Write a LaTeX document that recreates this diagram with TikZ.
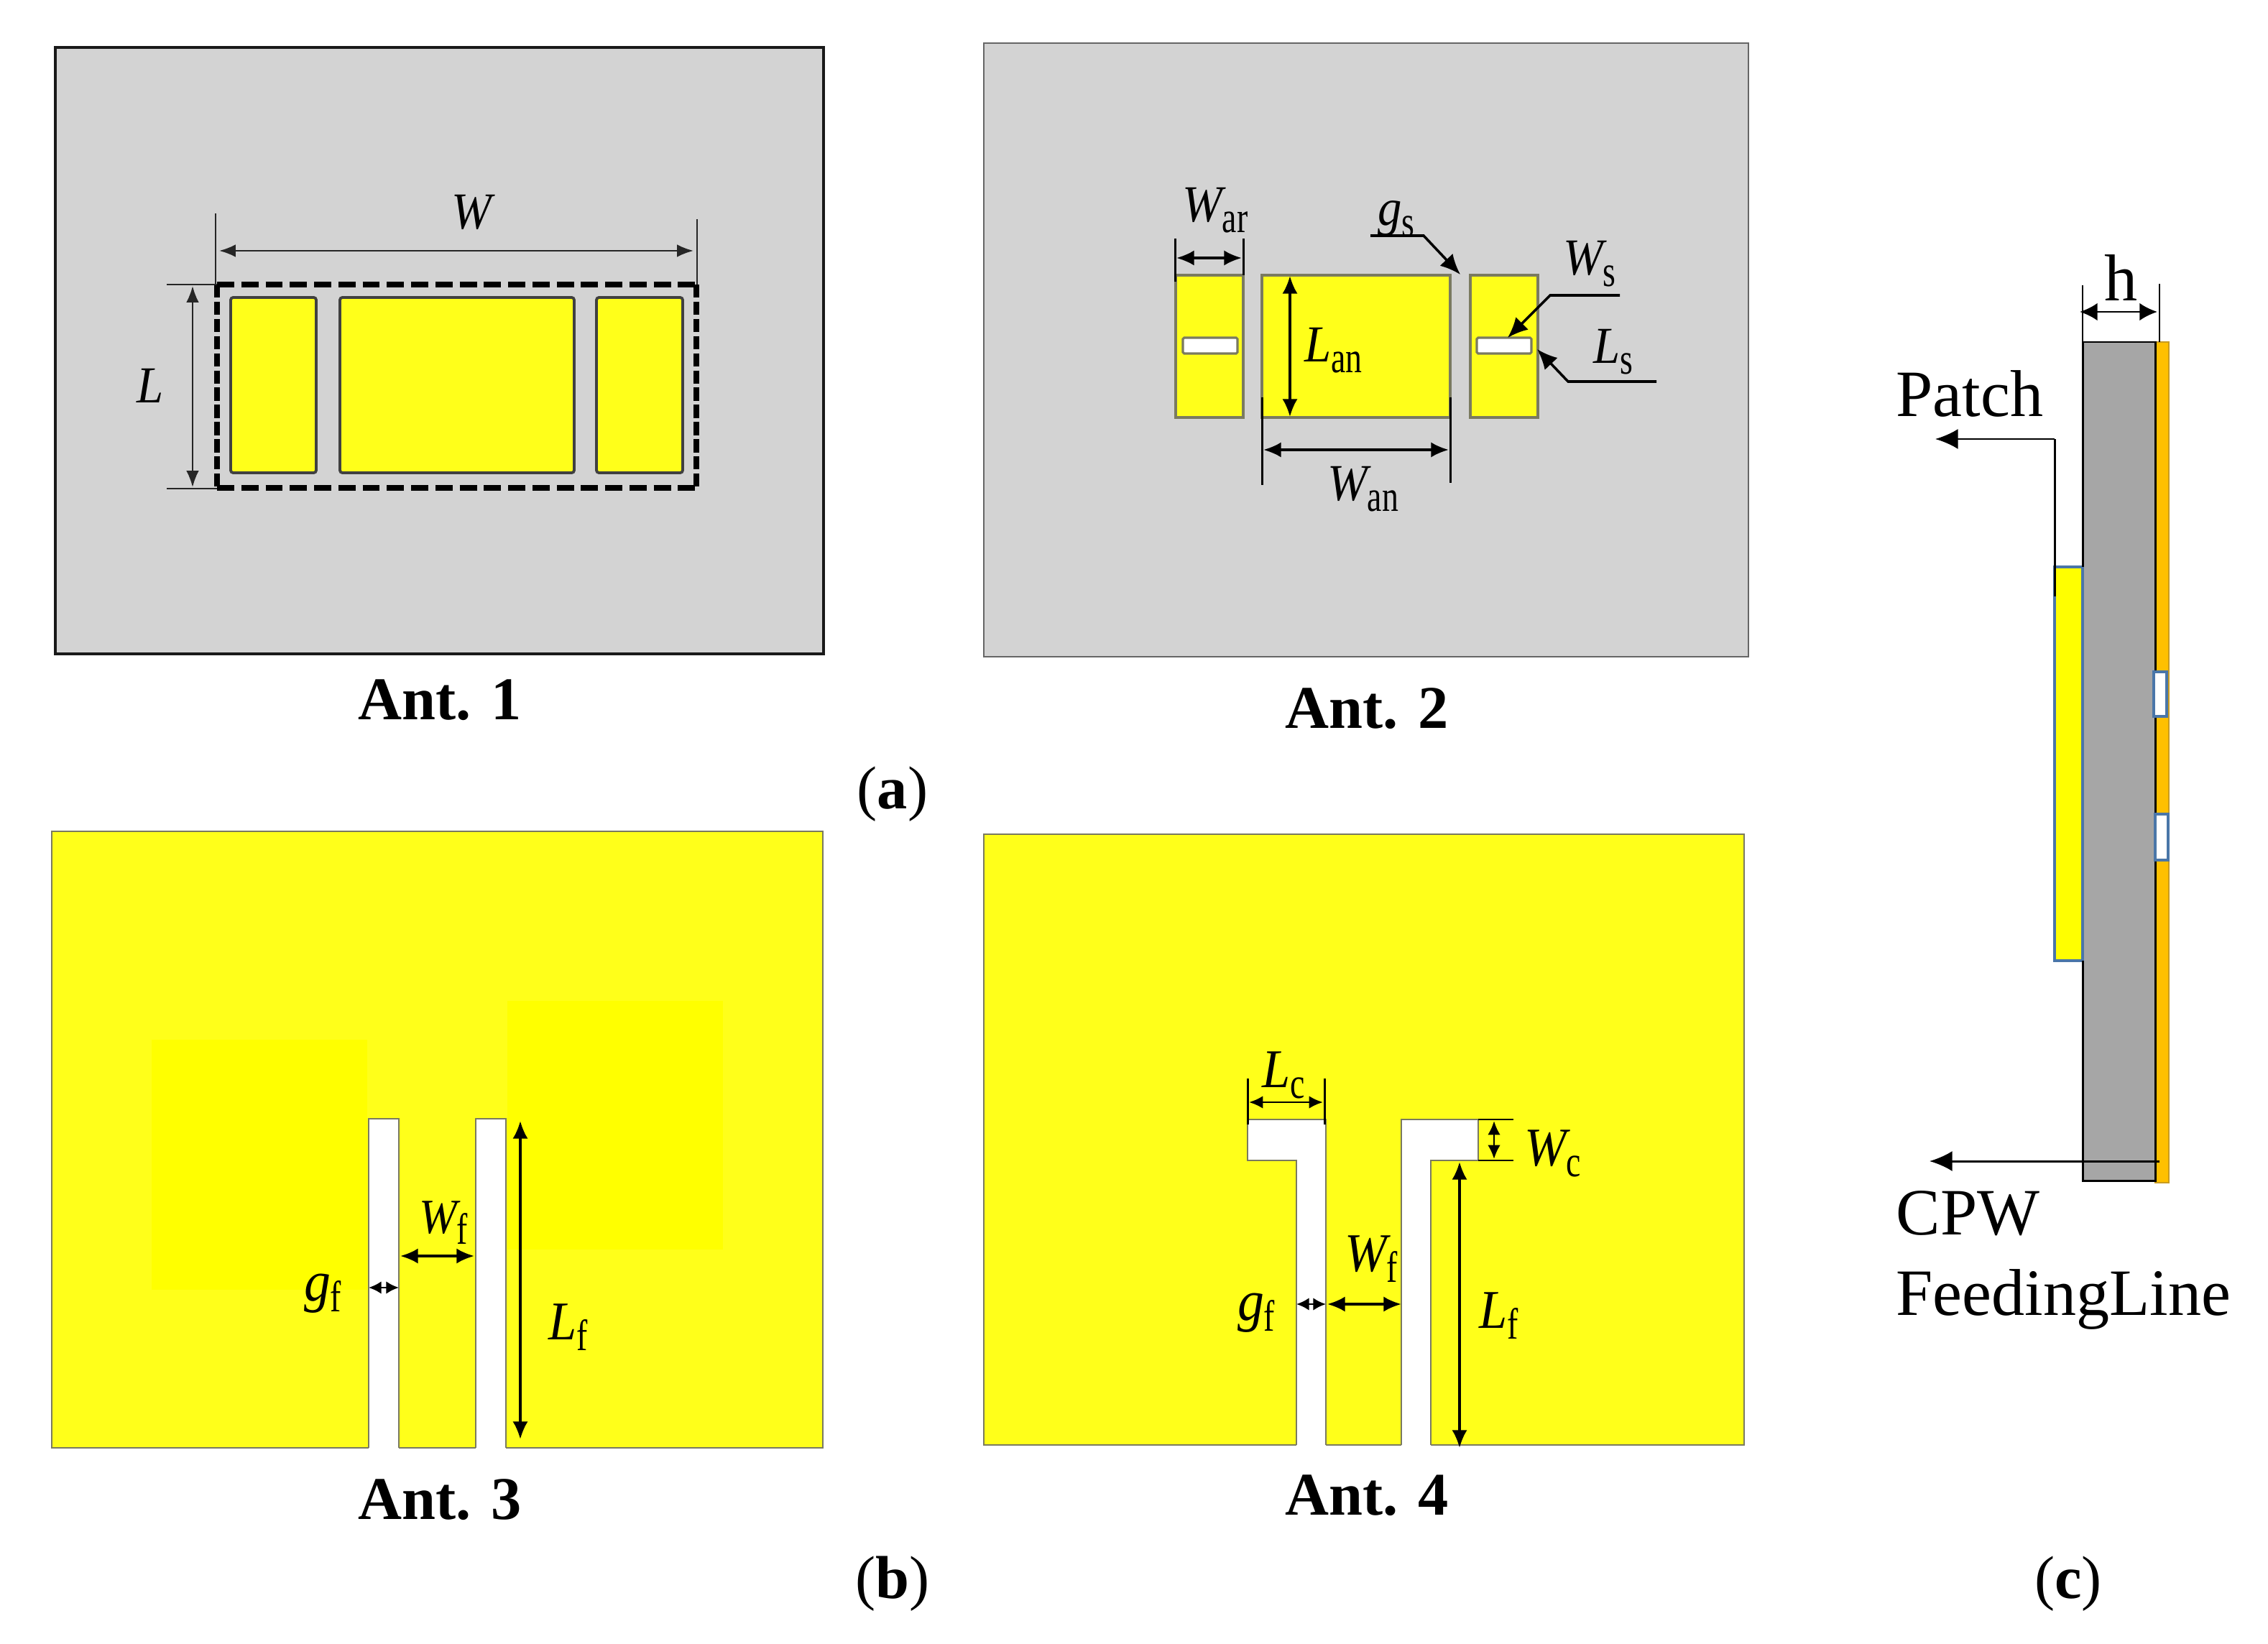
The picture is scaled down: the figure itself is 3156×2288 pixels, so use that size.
\documentclass[tikz,border=0pt]{standalone}
\usepackage{fontspec}
\usepackage{graphicx}
\setmainfont{Liberation Serif}
\usetikzlibrary{arrows.meta}
\definecolor{board}{HTML}{D3D3D3}
\definecolor{ylw}{HTML}{FFFF1A}
\definecolor{ylwb}{HTML}{FFFF00}
\definecolor{edgeg}{HTML}{7A7A60}
\definecolor{org}{HTML}{FFC000}
\definecolor{orgedge}{HTML}{C89B20}
\definecolor{subg}{HTML}{A6A6A6}
\definecolor{blueedge}{HTML}{4A76A8}
\newcommand\lb[3][19]{\scalebox{1}[1.08]{\fontsize{#1}{#1}\selectfont\itshape #2}\raisebox{-4.4pt}{\scalebox{.84}[1.12]{\fontsize{15.5}{15.5}\selectfont #3}}}
\tikzset{
  dimthin/.style={line width=0.7pt,black!85,{Latex[length=6.5pt,width=5pt]}-{Latex[length=6.5pt,width=5pt]}},
  dimthick/.style={line width=1pt,black,{Latex[length=7pt,width=6pt]}-{Latex[length=7pt,width=6pt]}},
  ext/.style={line width=0.55pt,black!85},
  extb/.style={line width=0.85pt,black},
  leader/.style={line width=1pt,black,-{Latex[length=8pt,width=7pt]}},
  patchA/.style={fill=ylw,draw=black!75,line width=1.1pt,rounded corners=1pt},
  patchB/.style={fill=ylw,draw=edgeg,line width=0.9pt},
  slotS/.style={fill=white,draw=edgeg,line width=0.9pt,rounded corners=0.5pt},
  yshape/.style={fill=ylw,draw=edgeg,line width=0.5pt},
  gapw/.style={fill=white},
  gapl/.style={draw=edgeg,line width=0.6pt},
  lab/.style={anchor=base west,inner sep=0pt,outer sep=0pt},
  antcap/.style={anchor=center,inner sep=0pt,font=\fontsize{24}{28}\selectfont\bfseries},
  ptxt/.style={anchor=base west,inner sep=0pt,font=\fontsize{26.2}{30}\selectfont},
  pcap/.style={anchor=center,inner sep=0pt,font=\fontsize{24}{28}\selectfont},
  sidearrow/.style={line width=0.85pt,black,-{Latex[length=9pt,width=8pt]}},
}
\begin{document}
\begin{tikzpicture}[x=0.01cm,y=-0.01cm]
\useasboundingbox (0,0) rectangle (3156,2288);
\fill[white] (0,0) rectangle (3156,2288);

% ---- Ant. 1
\draw[fill=board,draw=black!90,line width=1.1pt] (77,66) rectangle (1146,910);
\draw[patchA] (321,414) rectangle (440,658);
\draw[patchA] (473,414) rectangle (799,658);
\draw[patchA] (830,414) rectangle (950,658);
\draw[black,line width=2.2pt,dash pattern=on 6.8pt off 2.8pt] (302,396) -- (969,396);
\draw[black,line width=2.2pt,dash pattern=on 6.8pt off 2.8pt] (302,679) -- (969,679);
\draw[black,line width=2.0pt,dash pattern=on 5.2pt off 1.6pt] (302,396) -- (302,679);
\draw[black,line width=2.0pt,dash pattern=on 5.2pt off 1.6pt] (969,396) -- (969,679);
\draw[ext] (300,297) -- (300,396);
\draw[ext] (970,305) -- (970,396);
\draw[dimthin] (305,349) -- (965,349);
\draw[ext] (232,396) -- (302,396);
\draw[ext] (232,680) -- (302,680);
\draw[dimthin] (268,398) -- (268,678);
\node[lab] (w1) at (628,319) {\lb{W}{}};
\node[lab] (l1) at (190,560) {\lb{L}{}};
\node[antcap] (ant1) at (612,974) {Ant. 1};

% ---- Ant. 2
\draw[fill=board,draw=black!60,line width=0.7pt] (1369,60) rectangle (2433,914);
\draw[patchB] (1636,383) rectangle (1730,581);
\draw[patchB] (1756,383) rectangle (2018,581);
\draw[patchB] (2046,383) rectangle (2140,581);
\draw[slotS] (1646,470) rectangle (1722,492);
\draw[slotS] (2055,470) rectangle (2131,492);
\draw[extb] (1635,332) -- (1635,392);
\draw[extb] (1730,332) -- (1730,383);
\draw[dimthick] (1637,359) -- (1728,359);
\draw[extb] (1756,553) -- (1756,675);
\draw[extb] (2018,553) -- (2018,672);
\draw[dimthick] (1758,626) -- (2016,626);
\draw[dimthick] (1795,384) -- (1795,580);
\node[lab] (war) at (1645,308) {\lb{W}{ar}};
\node[lab] (gs) at (1917,314) {\lb{g}{s}};
\node[lab] (ws) at (2175,383) {\lb{W}{s}};
\node[lab] (ls) at (2217,505) {\lb{L}{s}};
\node[lab] (lan) at (1815,503) {\lb{L}{an}};
\node[lab] (wan) at (1847,696) {\lb{W}{an}};
\draw[leader] (1907,328) -- (1981,328) -- (2032,382);
\draw[leader] (2254,411) -- (2157,411) -- (2098,470);
\draw[leader] (2305,531) -- (2182,531) -- (2139,486);
\node[antcap] (ant2) at (1902,986) {Ant. 2};

% ---- Ant. 3
\draw[yshape] (72,1157) rectangle (1145,2015);
\fill[ylwb] (211,1447) rectangle (511,1795);
\fill[ylwb] (706,1393) rectangle (1006,1739);
\fill[gapw] (513,1557) rectangle (555,2018);
\fill[gapw] (662,1557) rectangle (704,2018);
\draw[gapl] (513,2015) -- (513,1557) -- (555,1557) -- (555,2015);
\draw[gapl] (662,2015) -- (662,1557) -- (704,1557) -- (704,2015);
\draw[dimthick] (557,1748) -- (660,1748);
\draw[dimthick,line width=0.8pt,{Latex[length=5pt,width=5pt]}-{Latex[length=5pt,width=5pt]}] (513,1792) -- (555,1792);
\draw[dimthick] (724,1560) -- (724,2003);
\node[lab] (wf3) at (583,1716) {\lb[18]{W}{f}};
\node[lab] (gf3) at (423,1810) {\lb[21]{g}{f}};
\node[lab] (lf3) at (763,1864) {\lb[20]{L}{f}};
\node[antcap] (ant3) at (612,2087) {Ant. 3};

% ---- Ant. 4
\draw[yshape] (1369,1161) rectangle (2427,2011);
\fill[gapw] (1736,1558) -- (1845,1558) -- (1845,2014) -- (1804,2014) -- (1804,1615) -- (1736,1615) -- cycle;
\fill[gapw] (1950,1558) -- (2057,1558) -- (2057,1615) -- (1991,1615) -- (1991,2014) -- (1950,2014) -- cycle;
\draw[gapl] (1845,2011) -- (1845,1558) -- (1736,1558) -- (1736,1615) -- (1804,1615) -- (1804,2011);
\draw[gapl] (1950,2011) -- (1950,1558) -- (2057,1558) -- (2057,1615) -- (1991,1615) -- (1991,2011);
\draw[extb] (1736,1501) -- (1736,1565);
\draw[extb] (1843,1501) -- (1843,1565);
\draw[dimthick,line width=0.8pt,{Latex[length=5.5pt,width=5pt]}-{Latex[length=5.5pt,width=5pt]}] (1738,1534) -- (1841,1534);
\draw[extb,line width=0.7pt] (2057,1558) -- (2106,1558);
\draw[extb,line width=0.7pt] (2057,1615) -- (2106,1615);
\draw[dimthick,line width=0.8pt,{Latex[length=5.5pt,width=5pt]}-{Latex[length=5.5pt,width=5pt]}] (2079,1560) -- (2079,1613);
\draw[dimthick] (2031,1617) -- (2031,2015);
\draw[dimthick] (1847,1815) -- (1950,1815);
\draw[dimthick,line width=0.8pt,{Latex[length=5pt,width=5pt]}-{Latex[length=5pt,width=5pt]}] (1804,1815) -- (1845,1815);
\node[lab] (lc) at (1756,1513) {\lb[20]{L}{c}};
\node[lab] (wc) at (2121,1622) {\lb[20]{W}{c}};
\node[lab] (lf4) at (2058,1848) {\lb[20]{L}{f}};
\node[lab] (wf4) at (1871,1769) {\lb[20]{W}{f}};
\node[lab] (gf4) at (1722,1837) {\lb[21]{g}{f}};
\node[antcap] (ant4) at (1902,2081) {Ant. 4};

% ---- (c) side view
\fill[subg] (2898,476) rectangle (2999,1643);
\draw[fill=org,draw=orgedge,line width=0.8pt] (2999,476) rectangle (3018,1646);
\draw[fill=ylwb,draw=blueedge,line width=0.9pt] (2859,789) rectangle (2898,1337);
\draw[black,line width=0.85pt] (2898,789) -- (2898,476) -- (2999,476) -- (2999,1643) -- (2898,1643) -- (2898,1337);
\draw[fill=white,draw=blueedge,line width=0.9pt] (2997,935) rectangle (3015,997);
\draw[fill=white,draw=blueedge,line width=0.9pt] (2999,1133) rectangle (3017,1197);
\draw[extb,line width=0.7pt] (2898,397) -- (2898,476);
\draw[extb,line width=0.7pt] (3005,395) -- (3005,476);
\draw[line width=0.85pt,black,{Latex[length=7pt,width=7pt]}-{Latex[length=7pt,width=7pt]}] (2894,434) -- (3002,434);
\draw[black,line width=0.85pt] (2859,830) -- (2859,611);
\coordinate (pk) at (2859,611);
\coordinate (pt) at (2693,611);
\draw[sidearrow] (pk) -- (pt);
\coordinate (cs) at (3005,1616);
\coordinate (ct) at (2685,1616);
\draw[sidearrow] (cs) -- (ct);
\node[ptxt,anchor=base] (h) at (2952,419) {h};
\node[ptxt] (patch) at (2638,579) {Patch};
\node[ptxt] (cpw) at (2638,1718) {CPW};
\node[ptxt] (feed) at (2638,1830) {FeedingLine};

% ---- sub-captions
\node[pcap] (a) at (1242,1105) {({\bfseries a})};
\node[pcap] (b) at (1242,2204) {({\bfseries b})};
\node[pcap] (c) at (2878,2204) {({\bfseries c})};
\end{tikzpicture}
\end{document}
